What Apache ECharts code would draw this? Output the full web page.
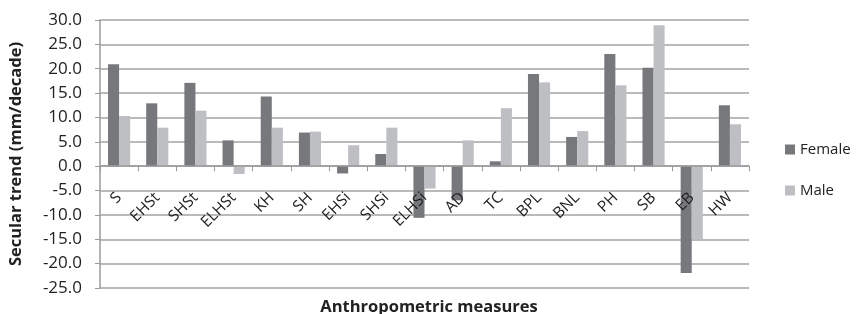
<!DOCTYPE html>
<html>
<head>
<meta charset="utf-8">
<script src="https://cdn.jsdelivr.net/npm/echarts@6/dist/echarts.min.js"></script>
<style>
  html, body { margin: 0; padding: 0; background: #fff; }
  #chart { width: 863px; height: 314px; }
</style>
</head>
<body>
<div id="chart"></div>
<script>
const categories = ['S', 'EHSt', 'SHSt', 'ELHSt', 'KH', 'SH', 'EHSi', 'SHSi', 'ELHSi', 'AD', 'TC', 'BPL', 'BNL', 'PH', 'SB', 'EB', 'HW']
const female = [20.9, 12.9, 17.1, 5.3, 14.3, 6.9, -1.5, 2.5, -10.6, -7.0, 1.0, 18.9, 6.0, 23.0, 20.2, -21.9, 12.5]
const male = [10.3, 7.9, 11.4, -1.6, 7.9, 7.1, 4.3, 7.9, -4.6, 5.3, 11.9, 17.2, 7.2, 16.6, 28.9, -15.0, 8.6]

const font = 'Open Sans'
const yMin = -25
const yMax = 30
const gridTop = 20
const gridBottom = 26
const plotH = 314 - gridTop - gridBottom
// x axis sits at value 0, moved up from the bottom edge of the grid
const zeroOffset = -plotH * (0 - yMin) / (yMax - yMin)

const chart = echarts.init(document.getElementById('chart'))

chart.setOption({
  animation: false,
  textStyle: { fontFamily: font },
  title: {
    text: 'Anthropometric measures',
    left: 424,
    textAlign: 'center',
    bottom: -7,
    textStyle: { fontFamily: font, fontSize: 16.5, fontWeight: 'bold', color: '#222' },
  },
  legend: {
    orient: 'vertical',
    left: 780,
    top: 137,
    itemWidth: 10,
    itemHeight: 10,
    itemGap: 26,
    icon: 'rect',
    textStyle: { fontFamily: font, fontSize: 15, color: '#222' },
    data: ['Female', 'Male'],
  },
  grid: { left: 100, right: 114, top: gridTop, bottom: gridBottom },
  xAxis: {
    type: 'category',
    data: categories,
    offset: zeroOffset,
    z: 10,
    axisLine: { onZero: false, lineStyle: { color: '#9a9a9a', width: 1.5 } },
    axisTick: { show: true, length: 5, lineStyle: { color: '#9a9a9a' } },
    axisLabel: { rotate: 45, margin: 29, fontSize: 15.5, color: '#222', fontFamily: font },
  },
  yAxis: {
    type: 'value',
    min: yMin,
    max: yMax,
    interval: 5,
    name: 'Secular trend (mm/decade)',
    nameLocation: 'middle',
    nameGap: 75,
    nameTextStyle: { fontFamily: font, fontSize: 16.5, fontWeight: 'bold', color: '#222' },
    axisLine: { show: true, lineStyle: { color: '#9a9a9a', width: 1.5 } },
    axisTick: { show: true, length: 5, lineStyle: { color: '#9a9a9a' } },
    axisLabel: {
      fontSize: 17,
      color: '#222',
      fontFamily: font,
      margin: 18,
      formatter: (v) => v.toFixed(1),
    },
    splitLine: { lineStyle: { color: '#a3a3a3', width: 1.5 } },
  },
  series: [
    {
      name: 'Female',
      type: 'bar',
      data: female,
      barGap: '0%',
      barCategoryGap: '42%',
      itemStyle: { color: '#77787c' },
    },
    {
      name: 'Male',
      type: 'bar',
      data: male,
      itemStyle: { color: '#bebfc3' },
    },
  ],
})
</script>
</body>
</html>
